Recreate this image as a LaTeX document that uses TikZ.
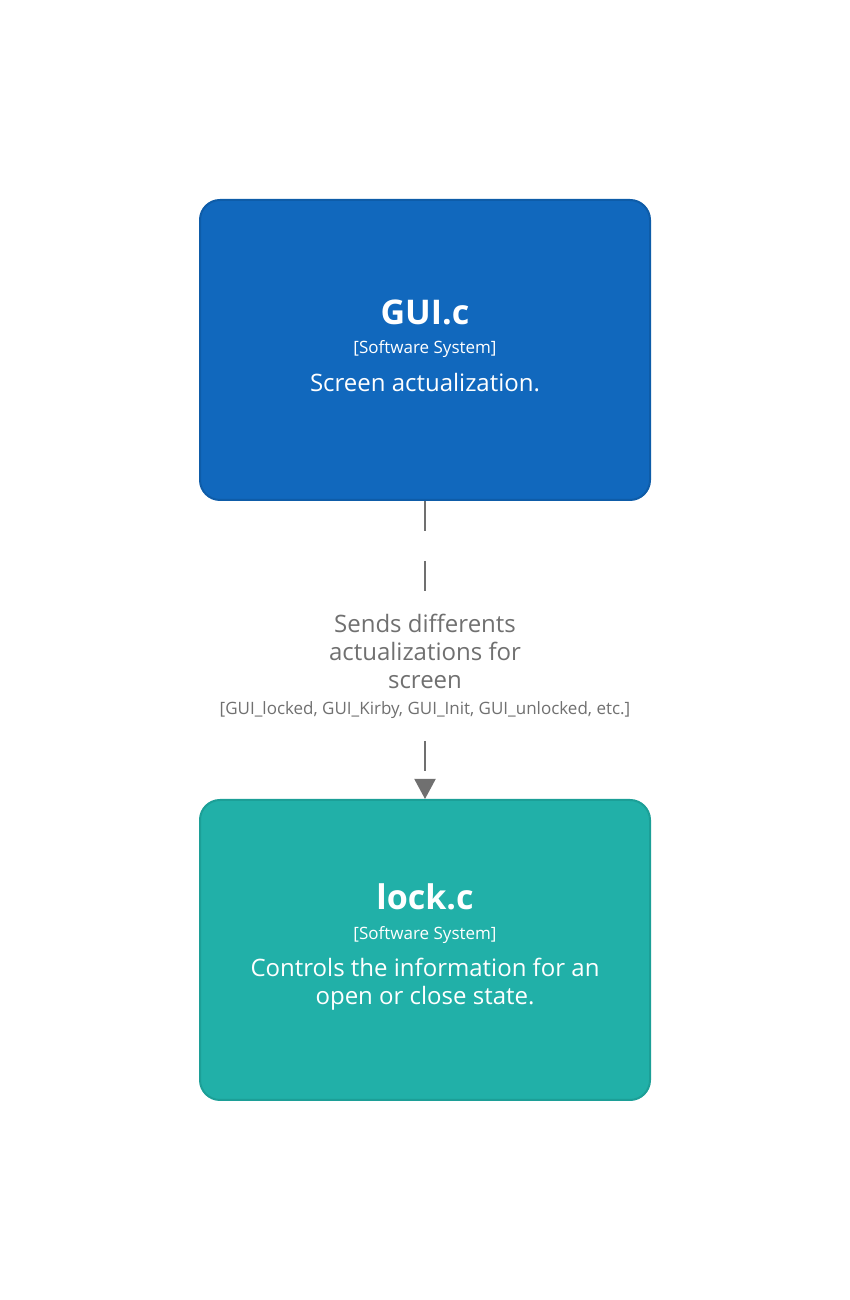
\documentclass[tikz,border=0pt]{standalone}
\usepackage{fontspec}
\setmainfont{Open Sans}
\usepackage{tikz}
\usetikzlibrary{arrows.meta,positioning,calc}
\definecolor{guiblue}{HTML}{1168BD}
\definecolor{guiedge}{HTML}{0E5CA8}
\definecolor{lockteal}{HTML}{21B0A8}
\definecolor{lockedge}{HTML}{1C9F97}
\definecolor{relgray}{HTML}{707070}

\begin{document}
\begin{tikzpicture}[x=1pt,y=1pt,
  system/.style={draw, line width=2pt, rounded corners=20pt, minimum width=450pt, minimum height=300pt, inner sep=0pt},
  sysname/.style={anchor=base, text=white, font=\fontsize{34}{40}\selectfont\bfseries},
  systype/.style={anchor=base, text=white, font=\fontsize{17}{20}\selectfont},
  sysdesc/.style={anchor=base, text=white, align=center, font=\fontsize{24}{28}\selectfont},
  rel/.style={draw=relgray, line width=2pt, dash pattern=on 30pt off 30pt, -{Triangle[width=21pt,length=20pt]}},
  rellabel/.style={fill=white, text=relgray, align=center, inner sep=4pt, font=\fontsize{24}{28}\selectfont}]
\useasboundingbox (0,0) rectangle (850,1300);

% the two systems
\node[system, fill=guiblue, draw=guiedge] (gui) at (425,950) {};
\node[sysname] (guiname) at ([yshift=25pt]gui.center) {GUI.c};
\node[systype] (guitype) at ([yshift=-4pt]gui.center) {[Software System]};
\node[sysdesc] (guidesc) at ([yshift=-42pt]gui.center) {Screen actualization.};

\node[system, fill=lockteal, draw=lockedge] (lock) at (425,350) {};
\node[sysname] (lockname) at ([yshift=40pt]lock.center) {lock.c};
\node[systype] (locktype) at ([yshift=10pt]lock.center) {[Software System]};
\node[sysdesc] (lockdesc) at ([yshift=-55pt]lock.center) {Controls the information for an\\open or close state.};

% relationship
\draw[rel] (gui.south) -- node[rellabel, yshift=-16pt] (rellbl) {Sends differents\\actualizations for\\screen\\[-2pt]{\fontsize{17}{20}\selectfont [GUI\_locked, GUI\_Kirby, GUI\_Init, GUI\_unlocked, etc.]}} (lock.north);
\end{tikzpicture}
\end{document}
